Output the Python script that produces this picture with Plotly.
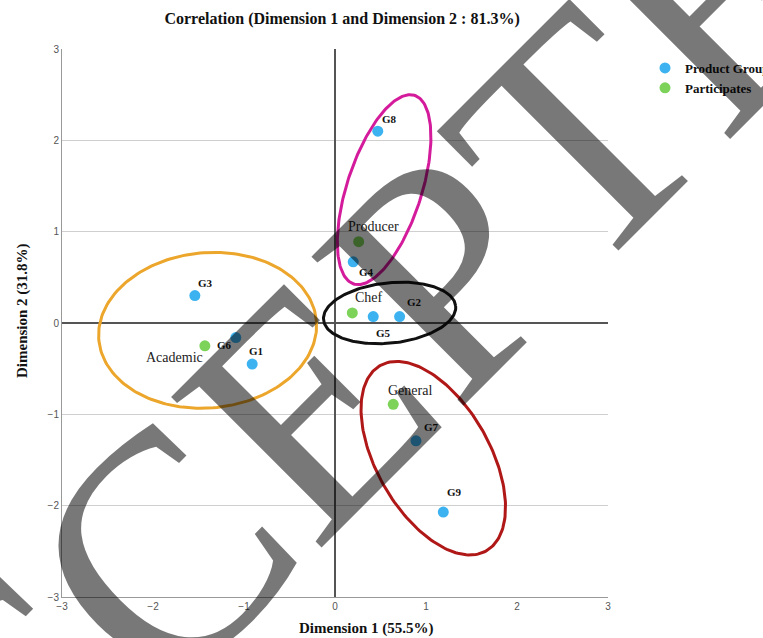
import numpy as np
import plotly.graph_objects as go

# Correspondence analysis coordinates
groups = ["G1", "G2", "G3", "G4", "G5", "G6", "G7", "G8", "G9"]
group_x = [-0.91, 0.71, -1.54, 0.20, 0.42, -1.09, 0.89, 0.47, 1.19]
group_y = [-0.45, 0.07, 0.30, 0.67, 0.07, -0.16, -1.29, 2.10, -2.07]

participants = ["Academic", "Chef", "Producer", "General"]
part_x = [-1.43, 0.19, 0.26, 0.64]
part_y = [-0.25, 0.11, 0.89, -0.89]

# label offsets in pixels (dx, dy)
group_label_shift = [(4, 13), (15, 15), (11, 13), (13, -10), (10, -16),
                     (-11, -7), (16, 14), (12, 12), (11, 20)]
part_label_shift = [(-30, -12), (17, 15), (15, 15), (17, 14)]

# cluster ellipses: centre x, centre y, semi-axis along, semi-axis across, tilt (deg), colour
clusters = [
    (-1.40, -0.08, 1.20, 0.85, 5, "#eca62c"),     # academic cluster
    (0.54, 1.46, 0.41, 1.085, -18, "#d31b9b"),    # producer cluster
    (0.60, 0.11, 0.73, 0.33, 6, "#111111"),       # chef cluster
    (1.08, -1.48, 0.62, 1.17, 30, "#b01818"),     # general cluster
]

BLUE = "#3cb3f0"
GREEN = "#7dd35a"
SERIF = "Liberation Serif, Times New Roman, serif"
SANS = "Liberation Sans, Arial, sans-serif"

fig = go.Figure()

t = np.linspace(0, 2 * np.pi, 200)
for cx, cy, a, b, ang, col in clusters:
    th = np.deg2rad(ang)
    ex = a * np.cos(t)
    ey = b * np.sin(t)
    fig.add_trace(go.Scatter(
        x=cx + ex * np.cos(th) - ey * np.sin(th),
        y=cy + ex * np.sin(th) + ey * np.cos(th),
        mode="lines", line=dict(color=col, width=3),
        showlegend=False, hoverinfo="skip"))

fig.add_trace(go.Scatter(
    x=group_x, y=group_y, mode="markers", name="<b>Product Group</b>",
    marker=dict(color=BLUE, size=11)))
fig.add_trace(go.Scatter(
    x=part_x, y=part_y, mode="markers", name="<b>Participates</b>",
    marker=dict(color=GREEN, size=11)))

annotations = []
for name, x, y, (dx, dy) in zip(groups, group_x, group_y, group_label_shift):
    annotations.append(dict(x=x, y=y, text="<b>%s</b>" % name, showarrow=False,
                            xshift=dx, yshift=dy,
                            font=dict(family=SERIF, size=11, color="#111")))
for name, x, y, (dx, dy) in zip(participants, part_x, part_y, part_label_shift):
    annotations.append(dict(x=x, y=y, text=name, showarrow=False,
                            xshift=dx, yshift=dy,
                            font=dict(family=SERIF, size=14, color="#222")))

# axis titles
annotations.append(dict(xref="paper", yref="paper", x=0.557, y=-0.0566,
                        text="<b>Dimension 1 (55.5%)</b>", showarrow=False,
                        yanchor="middle",
                        font=dict(family=SERIF, size=15, color="#111")))
annotations.append(dict(xref="paper", yref="paper", x=-0.0733, y=0.5237,
                        text="<b>Dimension 2 (31.8%)</b>", showarrow=False,
                        textangle=-90, xanchor="center", yanchor="middle",
                        font=dict(family=SERIF, size=15, color="#111")))

# translucent stamp across the chart
annotations.append(dict(x=0.26, y=-0.355, text="ACCEPTED", showarrow=False,
                        textangle=-45,
                        font=dict(family=SERIF, size=325, color="rgba(0,0,0,0.53)")))

fig.update_layout(
    width=763, height=638,
    margin=dict(l=62, r=155, t=49, b=41, autoexpand=False),
    paper_bgcolor="white", plot_bgcolor="white",
    title=dict(text="<b>Correlation (Dimension 1 and Dimension 2 : 81.3%)</b>",
               x=0.513, xref="paper", y=1 - 18 / 638, yref="container",
               yanchor="middle",
               font=dict(family=SERIF, size=16, color="#111")),
    xaxis=dict(range=[-3, 3], tickvals=[-3, -2, -1, 0, 1, 2, 3],
               showgrid=False, zeroline=True, zerolinecolor="#555",
               zerolinewidth=1.5, showline=True, linecolor="#999",
               linewidth=1, ticks="", tickfont=dict(family=SANS, size=10, color="#555")),
    yaxis=dict(range=[-3, 3], tickvals=[-3, -2, -1, 0, 1, 2, 3],
               showgrid=True, gridcolor="#cfcfcf", gridwidth=1,
               zeroline=True, zerolinecolor="#555", zerolinewidth=1.5,
               showline=True, linecolor="#999", linewidth=1, ticks="",
               tickfont=dict(family=SANS, size=10, color="#555")),
    legend=dict(xref="container", yref="container", x=645 / 763, y=1 - 53 / 638,
                xanchor="left", yanchor="top",
                font=dict(family=SERIF, size=13, color="#111"),
                itemwidth=30, tracegroupgap=0, bgcolor="rgba(0,0,0,0)"),
    annotations=annotations,
)

fig.write_html("out.html")
